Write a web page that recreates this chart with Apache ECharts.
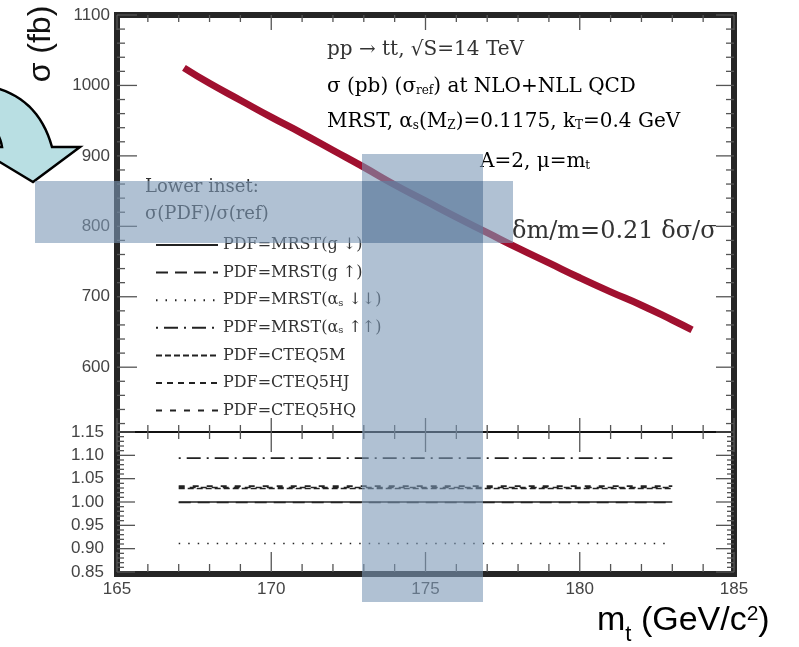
<!DOCTYPE html>
<html>
<head>
<meta charset="utf-8">
<script src="https://cdn.jsdelivr.net/npm/echarts@6/dist/echarts.min.js"></script>
<style>
  html, body { margin: 0; padding: 0; background: #fff; }
  #chart { width: 799px; height: 647px; }
</style>
</head>
<body>
<div id="chart"></div>
<script>
// Top-quark pair cross section vs. top mass (upper panel)
const massPoints = [167.17, 168, 169, 170, 171, 172, 173, 174, 175, 176, 177, 178, 179, 180, 181, 182, 183, 183.64];
const sigmaValues = [1025, 1003, 979, 955, 932, 908, 884, 859, 836, 813, 791, 769, 748, 727, 707, 688, 667, 653];

// PDF ratio curves sigma(PDF)/sigma(ref) (lower inset)
const ratioMass = [167, 169, 171, 173, 175, 177, 179, 181, 183];
const ratioNames = ['MRST(g ↓)', 'MRST(g ↑)', 'MRST(αs ↓↓)', 'MRST(αs ↑↑)', 'CTEQ5M', 'CTEQ5HJ', 'CTEQ5HQ'];
const ratioGDown   = [1.000, 1.000, 1.000, 1.000, 1.000, 1.000, 1.000, 1.000, 1.000];
const ratioGUp     = [0.999, 0.999, 0.999, 0.999, 0.999, 0.999, 0.999, 0.999, 0.999];
const ratioAsDown  = [0.911, 0.911, 0.911, 0.911, 0.911, 0.911, 0.911, 0.911, 0.911];
const ratioAsUp    = [1.094, 1.094, 1.094, 1.094, 1.094, 1.094, 1.094, 1.094, 1.094];
const ratioCteqM   = [1.029, 1.029, 1.029, 1.029, 1.029, 1.029, 1.029, 1.029, 1.029];
const ratioCteqHJ  = [1.031, 1.031, 1.031, 1.031, 1.031, 1.031, 1.031, 1.031, 1.031];
const ratioCteqHQ  = [1.034, 1.034, 1.034, 1.034, 1.034, 1.034, 1.034, 1.034, 1.034];

// Axis ranges and tick values
const xRange = [165, 185];
const massMajorTicks = [165, 170, 175, 180, 185];
const massMinorTicks = [166, 167, 168, 169, 171, 172, 173, 174, 176, 177, 178, 179, 181, 182, 183, 184];
const sigmaRange = [508, 1100];
const sigmaMajorTicks = [600, 700, 800, 900, 1000, 1100];
const sigmaMinorTicks = [520, 540, 560, 580, 620, 640, 660, 680, 720, 740, 760, 780,
  820, 840, 860, 880, 920, 940, 960, 980, 1020, 1040, 1060, 1080];
const ratioRange = [0.85, 1.15];
const ratioMajorTicks = [0.85, 0.90, 0.95, 1.00, 1.05, 1.10, 1.15];
const ratioMinorTicks = [0.86, 0.87, 0.88, 0.89, 0.91, 0.92, 0.93, 0.94, 0.96, 0.97, 0.98, 0.99,
  1.01, 1.02, 1.03, 1.04, 1.06, 1.07, 1.08, 1.09, 1.11, 1.12, 1.13, 1.14];

const SERIF = '"DejaVu Serif", "Liberation Serif", serif';
const SANS = '"Liberation Sans", Arial, sans-serif';

// panel geometry
const GRID_UP = { left: 117, right: 65, top: 15, height: 417 };
const GRID_LO = { left: 117, right: 65, top: 432, height: 140 };
const CHART_W = 799;

const chart = echarts.init(document.getElementById('chart'), null, { renderer: 'canvas' });

function pairs(xs, ys) { return xs.map((x, i) => [x, ys[i]]); }

// outline of the curved pointer arrow (shape, sampled quadratic edges)
function quad(p0, p1, p2, n) {
  const out = [];
  for (let i = 0; i <= n; i++) {
    const t = i / n, u = 1 - t;
    out.push([u * u * p0[0] + 2 * u * t * p1[0] + t * t * p2[0], u * u * p0[1] + 2 * u * t * p1[1] + t * t * p2[1]]);
  }
  return out;
}
const arrowOutline = [[52, 147], [80, 147], [33, 182], [-25, 147], [2, 147]]
  .concat(quad([2, 147], [0, 133], [-12, 122], 8).slice(1))
  .concat(quad([-12, 86], [38, 96], [52, 147], 16).slice(0, -1));

const ratioSets = [ratioGDown, ratioGUp, ratioAsDown, ratioAsUp, ratioCteqM, ratioCteqHJ, ratioCteqHQ];
const ratioDash = ['solid', [12, 7], [1.5, 8], [2, 6, 14, 6], [6, 3], [6, 5], [6, 8]];

function plainAxis(extra) {
  return Object.assign({
    type: 'value',
    axisLine: { show: false }, axisTick: { show: false }, minorTick: { show: false },
    splitLine: { show: false }, axisLabel: { show: false }
  }, extra);
}

function sub(fontSize) {
  return { fontFamily: SERIF, fontSize: fontSize, color: '#333', lineHeight: 16, verticalAlign: 'bottom' };
}
const mainRich = { fontFamily: SERIF, fontSize: 20, color: '#333', lineHeight: 24, verticalAlign: 'bottom' };

const decorations = [
  // curved pointer arrow at the upper left
  {
    type: 'polygon', id: 'arrow', z: 20,
    shape: { points: arrowOutline },
    style: { fill: '#B9DFE3', stroke: '#000', lineWidth: 2.5 }
  },
  // frame of the plot
  {
    type: 'rect', id: 'frame', z: 30, silent: true,
    shape: { x: 117, y: 15, width: 617, height: 559 },
    style: { fill: 'none', stroke: '#262626', lineWidth: 6 }
  },
  // axis titles
  {
    type: 'text', id: 'yTitle', z: 30, x: 41, y: 44, rotation: Math.PI / 2,
    style: { text: 'σ (fb)', font: '32px ' + SANS, fill: '#111', align: 'center', verticalAlign: 'middle' }
  },
  {
    type: 'text', id: 'xTitle', z: 30, x: 597, y: 646,
    style: {
      text: '{a|m}{b|t}{a| (GeV/c}{c|2}{a|)}', verticalAlign: 'bottom',
      rich: {
        a: { fontFamily: SANS, fontSize: 34, color: '#111', lineHeight: 42, verticalAlign: 'top' },
        b: { fontFamily: SANS, fontSize: 22, color: '#111', lineHeight: 22, verticalAlign: 'bottom' },
        c: { fontFamily: SANS, fontSize: 21, color: '#111', lineHeight: 42, verticalAlign: 'top' }
      }
    }
  },
  // physics annotations
  {
    type: 'text', id: 'note1', z: 25, x: 327, y: 50,
    style: { text: 'pp → tt, √S=14 TeV', font: '20px ' + SERIF, fill: '#333', verticalAlign: 'middle' }
  },
  {
    type: 'text', id: 'note2', z: 25, x: 327, y: 85,
    style: {
      text: '{a|σ (pb) (σ}{s|ref}{a|) at NLO+NLL QCD}', verticalAlign: 'middle',
      rich: { a: mainRich, s: sub(12) }
    }
  },
  {
    type: 'text', id: 'note3', z: 25, x: 327, y: 120,
    style: {
      text: '{a|MRST, α}{s|s}{a|(M}{s|Z}{a|)=0.1175, k}{s|T}{a|=0.4 GeV}', verticalAlign: 'middle',
      rich: { a: mainRich, s: sub(12) }
    }
  },
  {
    type: 'text', id: 'note4', z: 25, x: 480, y: 160,
    style: {
      text: '{a|A=2, μ=m}{s|t}', verticalAlign: 'middle',
      rich: { a: mainRich, s: sub(12) }
    }
  },
  {
    type: 'text', id: 'note5', z: 25, x: 512, y: 232,
    style: { text: 'δm/m=0.21 δσ/σ', font: '24px ' + SERIF, fill: '#333', verticalAlign: 'middle' }
  },
  {
    type: 'text', id: 'inset1', z: 25, x: 145, y: 187,
    style: { text: 'Lower inset:', font: '18px ' + SERIF, fill: '#333', verticalAlign: 'middle' }
  },
  {
    type: 'text', id: 'inset2', z: 25, x: 145, y: 214,
    style: { text: 'σ(PDF)/σ(ref)', font: '18px ' + SERIF, fill: '#333', verticalAlign: 'middle' }
  },
  // highlighted bands
  {
    type: 'rect', id: 'bandH', z: 50, silent: true,
    shape: { x: 35, y: 181, width: 478, height: 62 },
    style: { fill: 'rgba(123,152,182,0.6)' }
  },
  {
    type: 'rect', id: 'bandV', z: 50, silent: true,
    shape: { x: 362, y: 154, width: 121, height: 448 },
    style: { fill: 'rgba(123,152,182,0.6)' }
  },
  {
    type: 'rect', id: 'bandX', z: 51, silent: true,
    shape: { x: 362, y: 181, width: 121, height: 62 },
    style: { fill: 'rgba(60,90,130,0.3)' }
  }
];

const option = {
  animation: false,
  backgroundColor: '#fff',
  grid: [GRID_UP, GRID_LO],
  xAxis: [
    plainAxis({ gridIndex: 0, position: 'bottom', min: xRange[0], max: xRange[1], interval: 5 }),
    plainAxis({
      gridIndex: 1, position: 'bottom', min: xRange[0], max: xRange[1], interval: 5,
      axisLabel: { show: true, margin: 9, color: '#444', fontFamily: SANS, fontSize: 17 }
    }),
    plainAxis({
      gridIndex: 1, position: 'top', min: xRange[0], max: xRange[1], interval: 5,
      axisLine: { show: true, onZero: false, lineStyle: { color: '#111', width: 2 } }
    })
  ],
  yAxis: [
    plainAxis({
      gridIndex: 0, position: 'left', min: sigmaRange[0], max: sigmaRange[1],
      axisLabel: { show: true, customValues: sigmaMajorTicks, margin: 7, color: '#444', fontFamily: SANS, fontSize: 17,
        formatter: v => String(v) }
    }),
    plainAxis({
      gridIndex: 1, position: 'left', min: ratioRange[0], max: ratioRange[1], interval: 0.05,
      axisLabel: { show: true, margin: 13, color: '#444', fontFamily: SANS, fontSize: 17,
        formatter: v => v.toFixed(2) }
    })
  ],
  legend: {
    orient: 'vertical', left: 150, top: 232, selectedMode: false,
    itemWidth: 62, itemHeight: 14, itemGap: 11.6,
    itemStyle: { opacity: 0 },
    data: ratioNames.map(n => 'PDF=' + n),
    formatter: name => name.replace('αs', 'α{s|s}'),
    textStyle: {
      fontFamily: SERIF, fontSize: 16, color: '#333', lineHeight: 16,
      rich: { s: { fontFamily: SERIF, fontSize: 10, color: '#333', lineHeight: 16, verticalAlign: 'bottom' } }
    }
  },
  series: [
    {
      name: 'sigma', type: 'line', xAxisIndex: 0, yAxisIndex: 0, symbol: 'none', smooth: true,
      data: pairs(massPoints, sigmaValues),
      lineStyle: { color: '#A0102F', width: 7, cap: 'butt' }, z: 5
    }
  ].concat(ratioSets.map((vals, i) => ({
    name: 'PDF=' + ratioNames[i], type: 'line', xAxisIndex: 1, yAxisIndex: 1, symbol: 'none',
    data: pairs(ratioMass, vals),
    itemStyle: { color: '#222' },
    lineStyle: { color: '#222', width: 1.6, type: ratioDash[i] }
  })))
};

chart.setOption(option);

// Pixel position of a value on one axis; falls back to the panel's linear scale.
function axisPixel(kind, index, value, range, grid) {
  let p = NaN;
  try {
    const f = {};
    f[kind + 'AxisIndex'] = index;
    p = chart.convertToPixel(f, value);
  } catch (e) { p = NaN; }
  if (typeof p !== 'number' || !isFinite(p)) {
    const frac = (value - range[0]) / (range[1] - range[0]);
    p = kind === 'x'
      ? grid.left + frac * (CHART_W - grid.left - grid.right)
      : grid.top + (1 - frac) * grid.height;
  }
  return p;
}

// Tick marks on the four edges of each panel.
function panelTicks(tag, xIdx, yIdx, grid, yMajor, yMinor, yRange, len) {
  const els = [];
  const style = { stroke: '#555555', lineWidth: 1.3 };
  function seg(id, x1, y1, x2, y2) {
    els.push({ type: 'line', id: id, z: 40, silent: true, shape: { x1: x1, y1: y1, x2: x2, y2: y2 }, style: style });
  }
  const xl = axisPixel('x', xIdx, xRange[0], xRange, grid);
  const xr = axisPixel('x', xIdx, xRange[1], xRange, grid);
  const yt = axisPixel('y', yIdx, yRange[1], yRange, grid);
  const yb = axisPixel('y', yIdx, yRange[0], yRange, grid);
  yMajor.map(v => [v, true]).concat(yMinor.map(v => [v, false])).forEach((t, i) => {
    const y = axisPixel('y', yIdx, t[0], yRange, grid);
    seg(tag + 'L' + i, xl, y, xl + (t[1] ? len.left[0] : len.left[1]), y);
    seg(tag + 'R' + i, xr - (t[1] ? len.right[0] : len.right[1]), y, xr, y);
  });
  massMajorTicks.map(v => [v, true]).concat(massMinorTicks.map(v => [v, false])).forEach((t, i) => {
    const x = axisPixel('x', xIdx, t[0], xRange, grid);
    seg(tag + 'T' + i, x, yt, x, yt + (t[1] ? len.top[0] : len.top[1]));
    seg(tag + 'B' + i, x, yb - (t[1] ? len.bottom[0] : len.bottom[1]), x, yb);
  });
  return els;
}

let tickEls = [];
try {
  tickEls = panelTicks('u', 0, 0, GRID_UP, sigmaMajorTicks, sigmaMinorTicks, sigmaRange,
      { left: [20, 8], right: [18, 8], top: [15, 7], bottom: [14, 7] })
    .concat(panelTicks('l', 1, 1, GRID_LO, ratioMajorTicks, ratioMinorTicks, ratioRange,
      { left: [18, 7], right: [18, 7], top: [20, 7], bottom: [20, 8] }));
} catch (e) { tickEls = []; }

chart.setOption({ graphic: decorations.concat(tickEls) });
</script>
</body>
</html>
